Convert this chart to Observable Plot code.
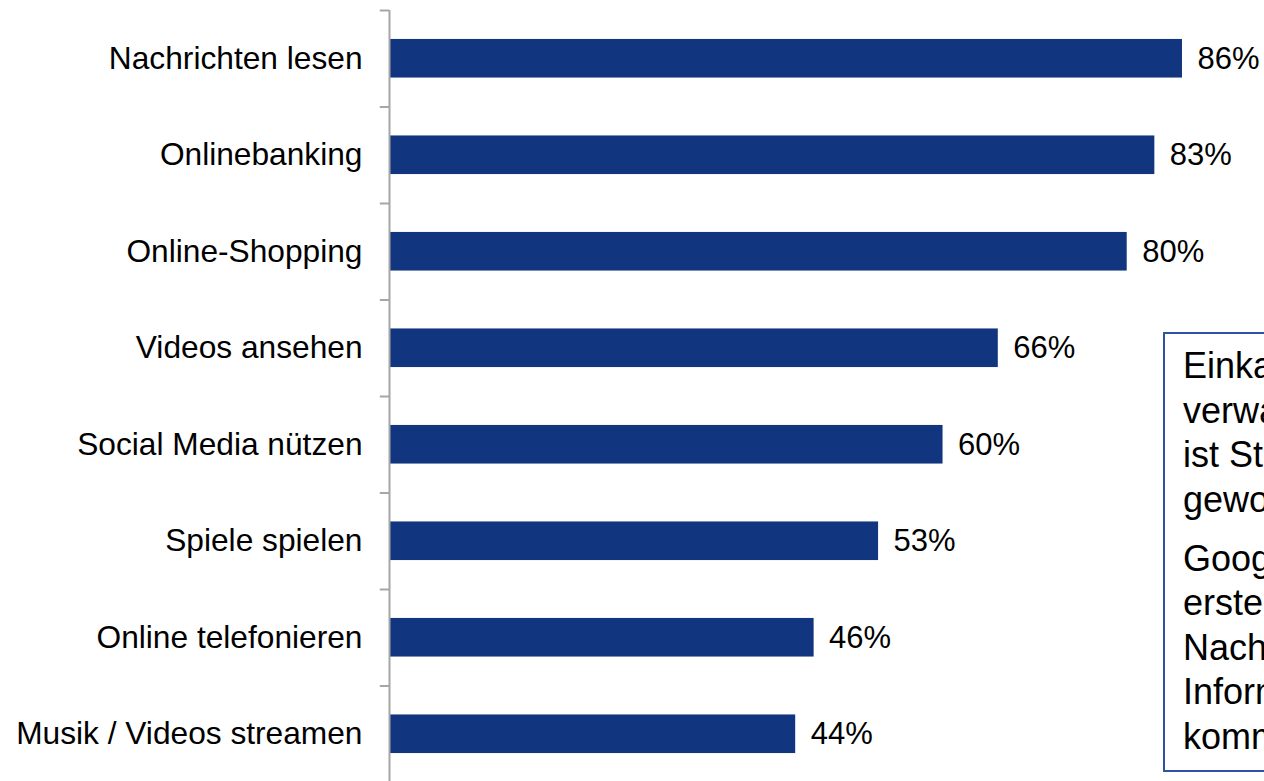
<!DOCTYPE html>
<html>
<head>
<meta charset="utf-8">
<script src="https://cdn.jsdelivr.net/npm/d3@7"></script>
<script src="https://cdn.jsdelivr.net/npm/@observablehq/plot@0.6"></script>
<style>
html, body { margin: 0; padding: 0; background: #fff; overflow: hidden; width: 1264px; height: 781px; }
#wrap { position: relative; width: 1264px; height: 781px; overflow: hidden; }
#note {
  position: absolute; left: 1163px; top: 332px; width: 460px; height: 426px;
  border: 2px solid #3152a0; background: #fff; padding: 10px 0 0 18px;
  font-family: "Liberation Sans", Arial, sans-serif; font-size: 36px; line-height: 44.5px;
  color: #000; white-space: nowrap;
}
#note p { margin: 0; }
#note p + p { margin-top: 14.5px; }
</style>
</head>
<body>
<div id="wrap">
  <div id="chart"></div>
  <div id="note">
    <p>Einkaufen und Finanzen<br>verwalten im Internet<br>ist Standard<br>geworden.</p>
    <p>Google ist die<br>erste Anlaufstelle, um an<br>Nachrichten und<br>Informationen zu<br>kommen.</p>
  </div>
</div>
<script>
const categories = ["Nachrichten lesen", "Onlinebanking", "Online-Shopping", "Videos ansehen", "Social Media nützen", "Spiele spielen", "Online telefonieren", "Musik / Videos streamen"];
const values = [86, 83, 80, 66, 60, 53, 46, 44];
const data = categories.map((c, i) => ({category: c, value: values[i]}));

const chart = Plot.plot({
  width: 1264,
  height: 781,
  marginLeft: 390,
  marginRight: 0,
  marginTop: 10,
  marginBottom: 0,
  style: {fontFamily: "'Liberation Sans', Arial, sans-serif", fontSize: "31px", background: "#fff", color: "#000"},
  x: {domain: [0, 100], range: [390, 1310.9], axis: null},
  y: {domain: categories, range: [10, 782], paddingInner: 0.6, paddingOuter: 0.3, round: false, axis: null},
  marks: [
    Plot.barX(data, {y: "category", x: "value", fill: "#12357f"}),
    Plot.ruleX([0], {stroke: "#a6a6a6", strokeWidth: 2, dx: -1}),
    Plot.ruleY(categories, {y: d => d, x1: -1, x2: 0, dx: -1, dy: -48.25, stroke: "#a6a6a6", strokeWidth: 2}),
    Plot.text(data, {y: "category", x: "value", text: d => d.value + "%", textAnchor: "start", dx: 15, fill: "#000", fontSize: 31}),
    Plot.text(data, {y: "category", x: 0, text: "category", textAnchor: "end", dx: -28, fill: "#000", fontSize: 31.7})
  ]
});
document.getElementById("chart").appendChild(chart);
</script>
</body>
</html>
